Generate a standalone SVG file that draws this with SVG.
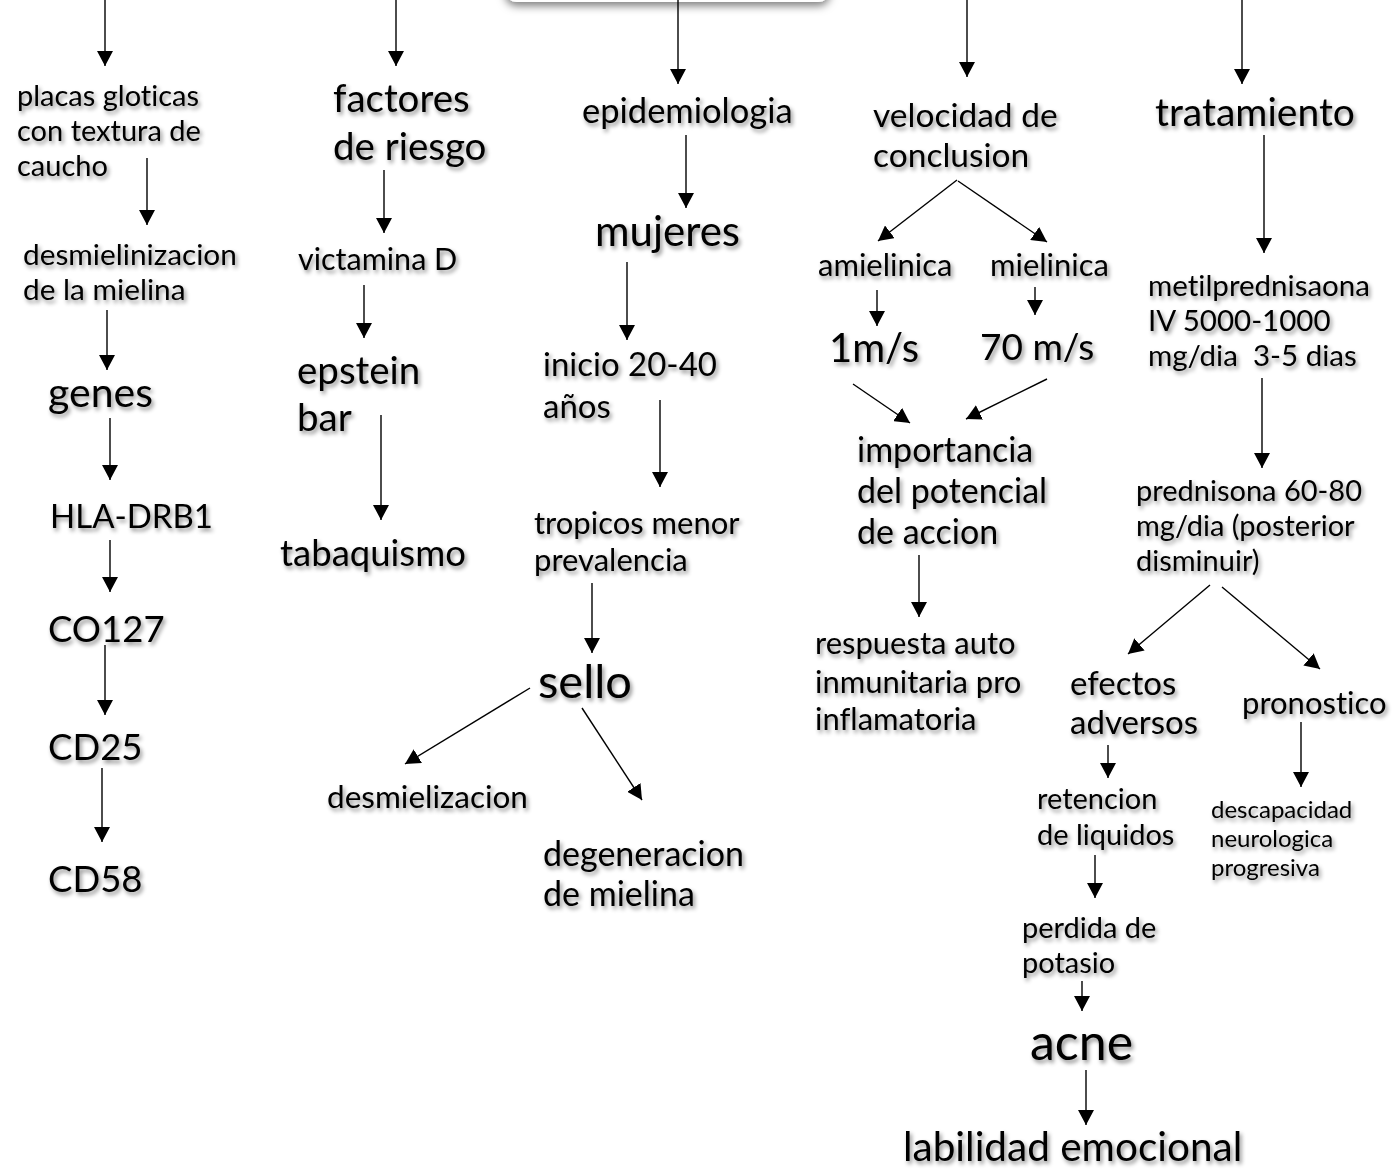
<svg xmlns="http://www.w3.org/2000/svg" width="1395" height="1176" viewBox="0 0 1395 1176">
<style>
text{font-family:Lato,"Open Sans","Liberation Sans",sans-serif;fill:#000;font-variant-ligatures:none;font-feature-settings:"liga" 0;}
.t{filter:url(#ts);}
.c line{stroke:#000;stroke-width:1.4;marker-end:url(#ah);}
</style>
<defs>
<filter id="ts" x="-10%" y="-30%" width="130%" height="180%">
<feDropShadow dx="2" dy="3" stdDeviation="2" flood-color="#000" flood-opacity="0.45"/>
</filter>
<filter id="bs" x="-10%" y="-50%" width="120%" height="250%">
<feDropShadow dx="0" dy="4" stdDeviation="4" flood-color="#000" flood-opacity="0.5"/>
</filter>
<marker id="ah" markerUnits="userSpaceOnUse" markerWidth="16" markerHeight="16" refX="15" refY="8" orient="auto">
<path d="M0,0 L15,8 L0,16 Z" fill="#000"/>
</marker>
</defs>
<rect width="1395" height="1176" fill="#fff"/>
<g id="top-box"><rect x="505" y="-40" width="325" height="42" rx="12" fill="#fff" filter="url(#bs)"/></g>

<g class="c" id="connectors">
<line x1="105" y1="0" x2="105" y2="66"/>
<line x1="147" y1="158" x2="147" y2="225"/>
<line x1="107" y1="310" x2="107" y2="370"/>
<line x1="110" y1="418" x2="110" y2="480"/>
<line x1="110" y1="540" x2="110" y2="592"/>
<line x1="105" y1="645" x2="105" y2="715"/>
<line x1="102" y1="768" x2="102" y2="842"/>
<line x1="396" y1="0" x2="396" y2="66"/>
<line x1="384" y1="170" x2="384" y2="233"/>
<line x1="364" y1="285" x2="364" y2="338"/>
<line x1="381" y1="415" x2="381" y2="520"/>
<line x1="678" y1="0" x2="678" y2="84"/>
<line x1="686" y1="135" x2="686" y2="208"/>
<line x1="627" y1="262" x2="627" y2="340"/>
<line x1="660" y1="400" x2="660" y2="487"/>
<line x1="592" y1="583" x2="592" y2="653"/>
<line x1="530" y1="688" x2="405" y2="764"/>
<line x1="582" y1="708" x2="642" y2="800"/>
<line x1="967" y1="0" x2="967" y2="77"/>
<line x1="957" y1="180" x2="878" y2="241"/>
<line x1="958" y1="181" x2="1047" y2="242"/>
<line x1="877" y1="290" x2="877" y2="326"/>
<line x1="1035" y1="287" x2="1035" y2="315"/>
<line x1="853" y1="384" x2="910" y2="423"/>
<line x1="1047" y1="379" x2="966" y2="419"/>
<line x1="919" y1="555" x2="919" y2="617"/>
<line x1="1242" y1="0" x2="1242" y2="84"/>
<line x1="1264" y1="135" x2="1264" y2="253"/>
<line x1="1262" y1="378" x2="1262" y2="468"/>
<line x1="1210" y1="585" x2="1128" y2="654"/>
<line x1="1222" y1="587" x2="1320" y2="669"/>
<line x1="1108" y1="745" x2="1108" y2="778"/>
<line x1="1301" y1="722" x2="1301" y2="787"/>
<line x1="1095" y1="855" x2="1095" y2="898"/>
<line x1="1082" y1="981" x2="1082" y2="1011"/>
<line x1="1086" y1="1070" x2="1086" y2="1125"/>
</g>

<g id="placas" class="t"><text x="17" y="106" font-size="29">placas gloticas</text><text x="17" y="141" font-size="29">con textura de</text><text x="17" y="176" font-size="29">caucho</text></g>
<g id="desmielinizacion" class="t"><text x="23" y="265" font-size="29.8">desmielinizacion</text><text x="23" y="300" font-size="29.8">de la mielina</text></g>
<g id="genes" class="t"><text x="48" y="407" font-size="41">genes</text></g>
<g id="hla" class="t"><text x="50" y="528" font-size="33">HLA-DRB1</text></g>
<g id="co127" class="t"><text x="48" y="642" font-size="36.5">CO127</text></g>
<g id="cd25" class="t"><text x="48" y="760" font-size="36.5">CD25</text></g>
<g id="cd58" class="t"><text x="48" y="892" font-size="36.5">CD58</text></g>

<g id="factores" class="t"><text x="333" y="112" font-size="38.5">factores</text><text x="333" y="160" font-size="38.5">de riesgo</text></g>
<g id="vitamina" class="t"><text x="298" y="270" font-size="30.5">victamina D</text></g>
<g id="epstein" class="t"><text x="297" y="384" font-size="38.5">epstein</text><text x="297" y="431" font-size="38.5">bar</text></g>
<g id="tabaquismo" class="t"><text x="280" y="566" font-size="36.5">tabaquismo</text></g>

<g id="epidemiologia" class="t"><text x="582" y="123" font-size="34.5">epidemiologia</text></g>
<g id="mujeres" class="t"><text x="595" y="246" font-size="42">mujeres</text></g>
<g id="inicio" class="t"><text x="543" y="376" font-size="33">inicio 20-40</text><text x="543" y="418" font-size="33">años</text></g>
<g id="tropicos" class="t"><text x="534" y="534" font-size="31">tropicos menor</text><text x="534" y="571" font-size="31">prevalencia</text></g>
<g id="sello" class="t"><text x="538" y="698" font-size="47">sello</text></g>
<g id="desmielizacion" class="t"><text x="327" y="808" font-size="31.5">desmielizacion</text></g>
<g id="degeneracion" class="t"><text x="543" y="866" font-size="34">degeneracion</text><text x="543" y="906" font-size="34">de mielina</text></g>

<g id="velocidad" class="t"><text x="873" y="127" font-size="33.5">velocidad de</text><text x="873" y="167" font-size="33.5">conclusion</text></g>
<g id="amielinica" class="t"><text x="818" y="276" font-size="31">amielinica</text></g>
<g id="mielinica" class="t"><text x="990" y="276" font-size="31">mielinica</text></g>
<g id="v1" class="t"><text x="829" y="362" font-size="40">1m/s</text></g>
<g id="v70" class="t"><text x="980" y="360" font-size="37">70 m/s</text></g>
<g id="importancia" class="t"><text x="857" y="462" font-size="34">importancia</text><text x="857" y="503" font-size="34">del potencial</text><text x="857" y="544" font-size="34">de accion</text></g>
<g id="respuesta" class="t"><text x="815" y="654" font-size="31">respuesta auto</text><text x="815" y="693" font-size="31">inmunitaria pro</text><text x="815" y="730" font-size="31">inflamatoria</text></g>

<g id="tratamiento" class="t"><text x="1155" y="126" font-size="39">tratamiento</text></g>
<g id="metil" class="t"><text x="1148" y="296" font-size="29.5">metilprednisaona</text><text x="1148" y="331" font-size="29.5">IV 5000-1000</text><text x="1148" y="366" font-size="29.5" xml:space="preserve">mg/dia  3-5 dias</text></g>
<g id="prednisona" class="t"><text x="1136" y="501" font-size="29">prednisona 60-80</text><text x="1136" y="536" font-size="29">mg/dia (posterior</text><text x="1136" y="571" font-size="29">disminuir)</text></g>
<g id="efectos" class="t"><text x="1070" y="695" font-size="33">efectos</text><text x="1070" y="734" font-size="33">adversos</text></g>
<g id="pronostico" class="t"><text x="1242" y="714" font-size="31">pronostico</text></g>
<g id="retencion" class="t"><text x="1037" y="809" font-size="29">retencion</text><text x="1037" y="845" font-size="29">de liquidos</text></g>
<g id="descapacidad" class="t"><text x="1211" y="818" font-size="24">descapacidad</text><text x="1211" y="847" font-size="24">neurologica</text><text x="1211" y="876" font-size="24">progresiva</text></g>
<g id="perdida" class="t"><text x="1022" y="938" font-size="29">perdida de</text><text x="1022" y="973" font-size="29">potasio</text></g>
<g id="acne" class="t"><text x="1030" y="1060" font-size="50">acne</text></g>
<g id="labilidad" class="t"><text x="903" y="1161" font-size="40.5">labilidad emocional</text></g>
</svg>
